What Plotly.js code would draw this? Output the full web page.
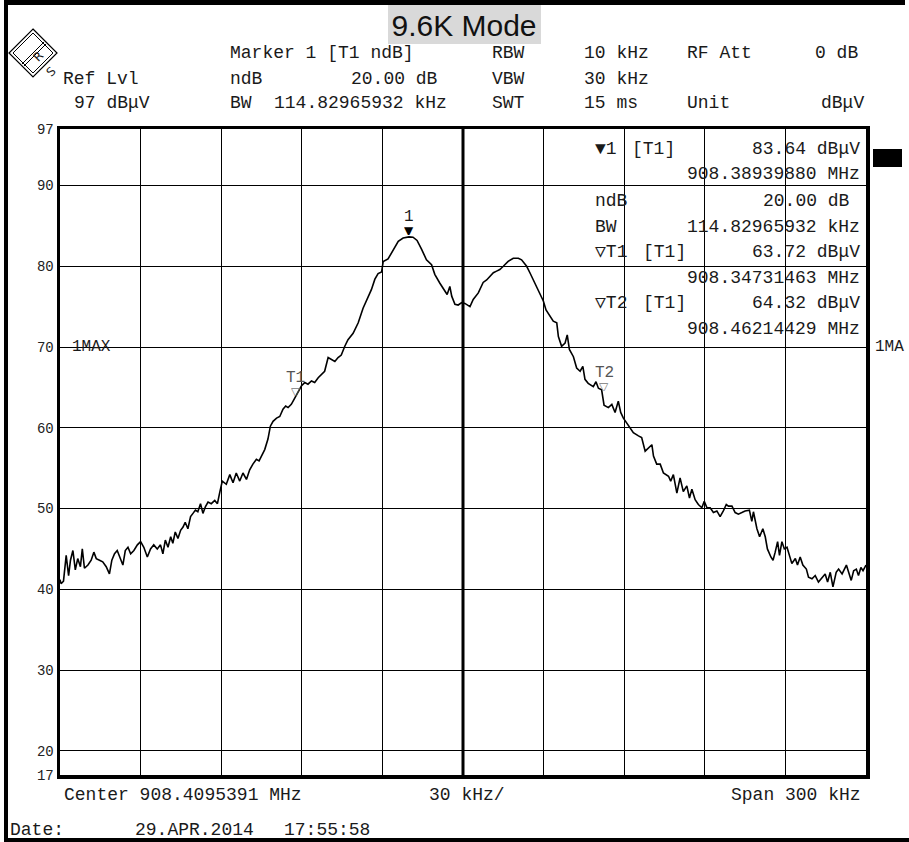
<!DOCTYPE html>
<html>
<head>
<meta charset="utf-8">
<script src="https://cdn.plot.ly/plotly-3.0.1.min.js"></script>
<style>html,body{margin:0;padding:0;background:#fff;}#chart{width:909px;height:842px;}</style>
</head>
<body>
<div id="chart"></div>
<script>
// ---- data (frequency offset from centre, kHz; level dBµV)
const centerMHz = 908.4095391;
const spanKHz = 300;
const freqOffsetKHz = [
-150.0,-149.6,-148.7,-147.7,-146.8,-146.1,-145.2,-144.3,-143.4,-142.4,-141.7,-140.9,-139.6,-138.4,-137.4,-136.5,
-135.3,-134.1,-132.8,-131.6,-130.7,-129.7,-128.7,-127.7,-126.6,-125.7,-124.7,-123.7,-122.5,-121.2,-120.0,-118.8,
-117.5,-116.3,-115.1,-113.8,-112.6,-111.7,-110.8,-109.8,-108.8,-108.0,-107.1,-106.1,-105.1,-104.2,-103.4,-102.4,
-101.4,-100.5,-99.6,-98.7,-97.7,-96.8,-95.9,-94.9,-93.7,-92.4,-91.4,-90.6,-89.6,-88.1,-86.8,-85.6,-84.4,-83.1,
-81.9,-80.6,-79.4,-78.2,-76.9,-75.9,-75.0,-73.8,-72.6,-71.7,-70.7,-69.4,-68.2,-67.0,-66.0,-65.1,-63.9,-62.6,
-61.4,-60.1,-58.9,-57.7,-56.4,-55.2,-53.9,-52.7,-51.5,-50.2,-49.0,-47.7,-46.5,-45.3,-44.0,-42.8,-40.9,-39.0,
-37.2,-35.9,-34.1,-32.8,-31.6,-30.3,-29.7,-27.9,-26.0,-24.1,-22.3,-20.1,-18.6,-17.1,-15.4,-13.6,-11.7,-10.5,
-8.6,-6.7,-5.9,-4.9,-4.2,-3.0,-1.8,-0.5,0.7,2.6,3.8,5.7,6.9,7.5,8.8,10.0,11.3,12.5,13.7,15.0,16.8,18.7,20.6,
21.8,23.7,24.9,26.2,27.4,28.7,29.9,30.9,32.4,33.6,34.9,35.5,36.7,38.0,38.8,39.6,41.1,42.3,43.6,44.6,45.4,46.6,
48.5,49.5,50.4,51.6,52.5,54.1,55.4,56.6,57.8,58.7,59.7,61.0,62.2,63.4,65.3,66.5,67.8,69.0,70.3,70.9,72.1,73.4,
74.6,76.5,77.3,78.3,79.6,80.8,82.0,83.3,84.3,85.2,86.4,87.6,88.9,89.8,90.8,92.0,93.2,94.5,95.7,96.9,98.0,98.8,
100.1,101.3,102.5,103.8,105.0,106.6,107.5,108.1,109.4,110.4,111.6,112.5,113.3,114.6,115.4,116.2,117.1,117.8,
118.7,119.6,120.6,121.5,122.4,123.7,124.5,125.5,126.5,127.8,128.6,129.9,131.1,132.3,133.6,134.8,135.7,136.7,
137.7,138.9,139.8,141.1,142.7,143.5,144.5,145.4,146.4,147.2,148.1,148.9,150.0];
const levelDBuV = [
41.2,40.7,41.0,44.2,41.7,43.6,44.8,42.4,43.8,42.8,45.0,42.6,43.0,43.6,44.6,43.8,
43.6,43.4,42.8,41.9,43.6,44.4,44.8,44.0,43.0,44.8,45.2,44.4,44.8,45.5,45.9,45.2,
44.0,45.0,45.5,45.0,45.5,44.4,46.1,45.2,46.5,45.7,47.1,46.3,47.3,47.7,48.3,47.5,
49.0,49.4,49.8,49.6,50.6,49.4,50.2,50.8,50.6,51.0,50.6,51.9,53.4,53.0,54.2,53.2,54.4,53.4,
54.4,53.6,54.8,55.5,56.1,55.9,56.5,57.3,58.6,60.2,60.8,61.2,61.4,62.3,62.7,62.5,62.9,63.7,
64.3,65.2,65.6,65.4,65.8,65.6,66.2,66.6,67.0,68.7,68.5,68.2,68.7,69.0,70.1,70.9,71.7,73.0,
74.8,75.8,77.1,78.4,79.1,79.3,80.6,80.9,82.1,83.1,83.5,83.64,83.6,83.2,82.1,80.8,80.2,79.0,
77.9,76.9,76.5,77.5,76.3,75.3,75.2,75.5,75.4,75.0,75.9,76.7,77.5,78.0,78.3,78.8,79.2,79.4,79.6,80.0,80.6,81.0,81.0,
80.8,80.0,79.2,78.3,77.5,76.7,75.7,74.6,73.8,73.2,73.0,71.3,70.1,70.5,71.5,69.7,68.8,67.4,67.0,67.6,66.0,65.5,
65.1,65.7,64.9,64.7,62.8,62.5,62.9,61.9,63.3,61.9,61.2,60.6,60.0,59.4,59.0,58.8,57.1,57.5,57.9,56.5,55.5,55.5,
54.4,54.0,53.4,54.2,51.9,53.8,52.1,52.8,51.3,52.4,51.1,50.5,50.1,50.9,50.1,50.1,49.5,49.7,49.0,49.7,50.5,50.3,
50.3,49.5,49.3,49.5,49.7,49.8,48.4,49.6,47.5,46.5,47.5,46.5,45.0,44.0,43.6,44.6,45.9,44.2,
45.9,45.0,45.2,44.2,43.2,43.8,43.0,44.0,43.0,42.5,41.5,41.3,41.7,40.9,41.5,41.9,40.9,42.1,
40.3,42.1,42.5,41.9,43.0,42.1,41.1,42.3,42.5,41.7,42.7,42.3,43.0];

const yTickVals = [17,20,30,40,50,60,70,80,90,97];
const markerNames = ['1','T1','T2'];
const markerFreqMHz = [908.38939880, 908.34731463, 908.46214429];
const markerLevel = [83.64, 63.72, 64.32];
const ndB = 20.00;
const bwKHz = '114.82965932';

// ---- layout helpers (pixel -> paper)
const L=60, R=43, T=129, B=67, W=909, H=842;
const PW = W-L-R, PH = H-T-B;
const px = x => (x-L)/PW;
const py = y => (H-B-y)/PH;
const MONO = 'Liberation Mono, DejaVu Sans Mono, monospace';
const INK = '#1a1a1a';
function txt(x, y, s, o) {
  o = o || {};
  return {xref:'paper', yref:'paper', x:px(x), y:py(y), text:s, showarrow:false,
    xanchor:o.xa||'left', yanchor:o.ya||'middle',
    font:{family:o.family||MONO, size:o.size||18, color:o.color||INK}};
}

const mOff = markerFreqMHz.map(f => +((f-centerMHz)*1000).toFixed(3));

const annotations = [
  // header
  txt(228,53,'Marker 1 [T1 ndB]'), txt(490,53,'RBW'), txt(582,53,'10 kHz'), txt(685,53,'RF Att'), txt(860,53,'0 dB',{xa:'right'}),
  txt(61,79,'Ref Lvl'), txt(228,79,'ndB'), txt(440,79, ndB.toFixed(2)+' dB',{xa:'right'}), txt(490,79,'VBW'), txt(582,79,'30 kHz'),
  txt(72,103,'97 dBμV'), txt(228,103,'BW'), txt(272,103, bwKHz+' kHz'), txt(490,103,'SWT'), txt(582,103,'15 ms'), txt(685,103,'Unit'), txt(866,103,'dBμV',{xa:'right'}),
  // marker info box inside plot
  txt(593,149,'▼1'), txt(630,149,'[T1]'), txt(862,149, markerLevel[0].toFixed(2)+' dBμV',{xa:'right'}),
  txt(862,174, markerFreqMHz[0].toFixed(8)+' MHz',{xa:'right'}),
  txt(593,201,'ndB'), txt(852,201, ndB.toFixed(2)+' dB',{xa:'right'}),
  txt(593,227,'BW'), txt(862,227, bwKHz+' kHz',{xa:'right'}),
  txt(593,252,'▽T1'), txt(641,252,'[T1]'), txt(862,252, markerLevel[1].toFixed(2)+' dBμV',{xa:'right'}),
  txt(862,278, markerFreqMHz[1].toFixed(8)+' MHz',{xa:'right'}),
  txt(593,303,'▽T2'), txt(641,303,'[T1]'), txt(862,303, markerLevel[2].toFixed(2)+' dBμV',{xa:'right'}),
  txt(862,329, markerFreqMHz[2].toFixed(8)+' MHz',{xa:'right'}),
  txt(70,347,'1MAX',{size:16}), txt(873,347,'1MA',{size:16}),
  // footer
  txt(62,795,'Center '+centerMHz.toFixed(7)+' MHz'), txt(427,795,(spanKHz/10)+' kHz/'), txt(863,795,'Span '+spanKHz+' kHz',{xa:'right'}),
  txt(8,830,'Date:'), txt(133,830,'29.APR.2014'), txt(282,830,'17:55:58'),
  // logo letters
  {xref:'paper',yref:'paper',x:px(27),y:py(46),text:'R',showarrow:false,textangle:-45,font:{family:'DejaVu Sans',size:12,color:INK}},
  {xref:'paper',yref:'paper',x:px(40),y:py(61),text:'S',showarrow:false,textangle:-45,font:{family:'DejaVu Sans',size:12,color:INK}}
];
// trace markers (symbols anchored on the trace)
markerNames.forEach((n,i) => {
  const filled = i===0;
  annotations.push({xref:'x',yref:'y',x:mOff[i],y:markerLevel[i],text:filled?'▼':'▽',showarrow:false,
    xanchor:'center',yanchor:'bottom',height:8,yshift:0,font:{family:'DejaVu Sans',size:12,color:filled?'#000':'#777'}});
  annotations.push({xref:'x',yref:'y',x:mOff[i],y:markerLevel[i],text:n,showarrow:false,
    xanchor:'center',yanchor:'bottom',height:15,yshift:11,font:{family:MONO,size:16,color:filled?INK:'#555'}});
});

const shapes = [
  // outer frame
  {type:'line',xref:'paper',yref:'paper',x0:px(4),x1:px(905),y0:py(2.5),y1:py(2.5),line:{color:'#000',width:5}},
  {type:'line',xref:'paper',yref:'paper',x0:px(6),x1:px(6),y0:py(0),y1:py(842),line:{color:'#000',width:4}},
  {type:'line',xref:'paper',yref:'paper',x0:px(4),x1:px(909),y0:py(840),y1:py(840),line:{color:'#000',width:4}},
  // title box
  {type:'rect',xref:'paper',yref:'paper',x0:px(388),x1:px(541),y0:py(5),y1:py(44),fillcolor:'#d9d9d9',line:{width:0},layer:'below'},
  // centre line
  {type:'line',xref:'x',yref:'paper',x0:0,x1:0,y0:0,y1:1,line:{color:'#000',width:3}},
  // black block right of plot
  {type:'rect',xref:'paper',yref:'paper',x0:px(873),x1:px(902),y0:py(149),y1:py(167),fillcolor:'#000',line:{width:0}},
  // R&S logo
  {type:'path',xref:'paper',yref:'paper',path:`M ${px(33)} ${py(29)} L ${px(57)} ${py(53)} L ${px(33)} ${py(77)} L ${px(9)} ${py(53)} Z`,line:{color:'#000',width:1.2}},
  {type:'path',xref:'paper',yref:'paper',path:`M ${px(33)} ${py(33)} L ${px(53)} ${py(53)} L ${px(33)} ${py(73)} L ${px(13)} ${py(53)} Z`,line:{color:'#000',width:1}},
  {type:'line',xref:'paper',yref:'paper',x0:px(22),y0:py(64),x1:px(44),y1:py(42),line:{color:'#000',width:1}},
  {type:'line',xref:'paper',yref:'paper',x0:px(24),y0:py(66),x1:px(46),y1:py(44),line:{color:'#000',width:1}}
];

const data = [{
  type:'scatter', mode:'lines', x:freqOffsetKHz, y:levelDBuV,
  line:{color:'#000', width:1.6}, hoverinfo:'skip'
}];

const layout = {
  width:W, height:H, margin:{l:L,r:R,t:T,b:B},
  paper_bgcolor:'#fff', plot_bgcolor:'#fff', showlegend:false,
  title:{text:'9.6K Mode', xref:'paper', x:px(464), xanchor:'center', yref:'container', y:1-25/H, yanchor:'middle',
    font:{family:'Liberation Sans, Arial, sans-serif', size:30, color:'#111'}},
  xaxis:{range:[-spanKHz/2, spanKHz/2], tick0:0, dtick:spanKHz/10, showticklabels:false, ticks:'',
    showgrid:true, gridcolor:'#000', gridwidth:1, zeroline:false,
    showline:true, mirror:true, linecolor:'#000', linewidth:3.5, fixedrange:true},
  yaxis:{range:[17,97], tickmode:'array', tickvals:yTickVals, ticktext:yTickVals.map(String), ticks:'',
    showgrid:true, gridcolor:'#000', gridwidth:1, zeroline:false,
    showline:true, mirror:true, linecolor:'#000', linewidth:3.5, fixedrange:true,
    tickfont:{family:MONO, size:14, color:'#222'}},
  shapes:shapes, annotations:annotations
};
Plotly.newPlot('chart', data, layout, {staticPlot:true, displayModeBar:false});
</script>
</body>
</html>
